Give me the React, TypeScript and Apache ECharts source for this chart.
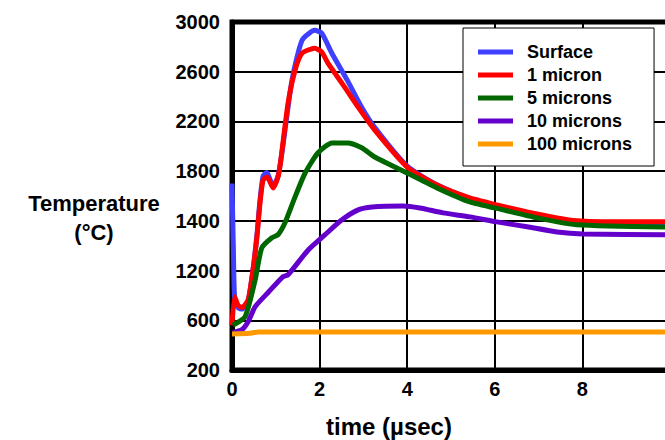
import React, { useEffect, useRef } from "react";
import * as echarts from "echarts";

// time (µsec), temperature
const surfaceData: number[][] = [
  [0, 1700], [0.03, 1200], [0.06, 780], [0.14, 700], [0.23, 690], [0.37, 760], [0.48, 1010],
  [0.57, 1290], [0.64, 1570], [0.71, 1760], [0.79, 1790], [0.94, 1680], [1.05, 1760],
  [1.14, 1946], [1.37, 2532], [1.6, 2853], [1.89, 2933], [2.05, 2909], [2.28, 2749],
  [2.65, 2520], [2.95, 2320], [3.26, 2150], [4.0, 1840], [4.68, 1690], [5.43, 1580], [6.05, 1520],
  [6.74, 1460], [7.42, 1405], [7.88, 1385], [8.47, 1378], [10, 1375],
];
const micron1Data: number[][] = [
  [0, 560], [0.06, 790], [0.14, 720], [0.23, 702], [0.37, 766], [0.48, 1007], [0.57, 1272],
  [0.64, 1545], [0.71, 1729], [0.8, 1753], [0.94, 1665], [1.05, 1753], [1.1, 1850],
  [1.28, 2347], [1.44, 2612], [1.6, 2749], [1.89, 2789], [2.05, 2757], [2.19, 2669],
  [2.51, 2508], [2.88, 2315], [3.26, 2130], [4.0, 1833], [4.68, 1688], [5.43, 1584],
  [6.05, 1528], [6.74, 1472], [7.42, 1424], [7.88, 1400], [8.47, 1392], [10, 1392],
];
const micron5Data: number[][] = [
  [0.02, 560], [0.3, 630], [0.53, 927], [0.68, 1183], [0.91, 1264], [1.05, 1288],
  [1.21, 1384], [1.44, 1593], [1.67, 1785], [1.96, 1946], [2.28, 2026], [2.65, 2026],
  [2.97, 1986], [3.26, 1914], [4.0, 1785], [4.68, 1665], [5.43, 1552], [6.19, 1488],
  [6.96, 1424], [7.88, 1368], [10, 1350],
];
const micron10Data: number[][] = [
  [0.02, 500], [0.23, 525], [0.37, 590], [0.53, 710], [0.82, 822], [1.16, 950], [1.28, 966],
  [1.74, 1166], [2.12, 1287], [2.51, 1408], [2.88, 1488], [3.2, 1512], [3.9, 1520],
  [4.29, 1504], [4.82, 1464], [5.43, 1432], [6.05, 1392], [6.74, 1352], [7.42, 1311],
  [8.01, 1295], [10, 1288],
];
const micron100Data: number[][] = [
  [0, 490], [0.4, 495], [0.6, 505], [10, 505],
];

const seriesNames = ["Surface", "1 micron", "5 microns", "10 microns", "100 microns"];
const yTickLabels = ["200", "600", "1200", "1400", "1800", "2200", "2600", "3000"];
const xTickLabels = ["0", "2", "4", "6", "8", "10"];

const FONT = "'Liberation Sans', Arial, sans-serif";

export default function App() {
  const ref = useRef<HTMLDivElement>(null);
  useEffect(() => {
    if (!ref.current) return;
    const chart = echarts.init(ref.current, undefined, { renderer: "svg" });
    const colors = ["#3f3fff", "#ff0000", "#006600", "#6400cc", "#ff9900"];
    const datas = [surfaceData, micron1Data, micron5Data, micron10Data, micron100Data];
    chart.setOption({
      animation: false,
      backgroundColor: "#ffffff",
      grid: {
        left: 232,
        right: 10,
        top: 22,
        bottom: 70,
        show: true,
        borderColor: "#000",
        borderWidth: 5,
      },
      legend: {
        orient: "vertical",
        left: 463,
        top: 28,
        padding: [15, 22, 13, 15],
        backgroundColor: "#fff",
        borderColor: "#000",
        borderWidth: 1,
        icon: "rect",
        itemWidth: 35,
        itemHeight: 5,
        itemGap: 5,
        data: seriesNames,
        textStyle: {
          fontFamily: FONT,
          fontWeight: "bold",
          fontSize: 18,
          lineHeight: 18,
          color: "#000",
          padding: [0, 0, 0, 9],
        },
      },
      xAxis: {
        type: "value",
        min: 0,
        max: 10,
        interval: 2,
        axisLine: { show: true, lineStyle: { color: "#000", width: 5 } },
        axisTick: { show: false },
        splitLine: { show: true, lineStyle: { color: "#000", width: 2 } },
        axisLabel: {
          fontFamily: FONT,
          fontWeight: "bold",
          fontSize: 20,
          color: "#000",
          margin: 9,
          showMaxLabel: false,
          formatter: (v: number) => xTickLabels[Math.round(v / 2)],
        },
      },
      yAxis: {
        type: "value",
        min: 200,
        max: 3000,
        interval: 400,
        axisLine: { show: true, lineStyle: { color: "#000", width: 5 } },
        axisTick: { show: false },
        splitLine: { show: true, lineStyle: { color: "#000", width: 2 } },
        axisLabel: {
          fontFamily: FONT,
          fontWeight: "bold",
          fontSize: 20,
          color: "#000",
          margin: 12,
          padding: [6, 0, 0, 0],
          formatter: (v: number) => yTickLabels[Math.round((v - 200) / 400)],
        },
      },
      graphic: [
        {
          type: "text",
          x: 94,
          y: 189,
          style: {
            text: "Temperature\n(°C)",
            fontFamily: FONT,
            fontWeight: "bold",
            fontSize: 22,
            lineHeight: 29,
            fill: "#000",
            align: "center",
            verticalAlign: "top",
          },
        },
        {
          type: "text",
          x: 389,
          y: 414,
          style: {
            text: "time (µsec)",
            fontFamily: FONT,
            fontWeight: "bold",
            fontSize: 24,
            fill: "#000",
            align: "center",
            verticalAlign: "top",
          },
        },
      ],
      series: datas.map((d, i) => ({
        name: seriesNames[i],
        type: "line",
        data: d,
        symbol: "none",
        smooth: 0.2,
        color: colors[i],
        lineStyle: { color: colors[i], width: 5 },
        z: 2 + i,
      })),
    });
    return () => chart.dispose();
  }, []);
  return (
    <div style={{ position: "fixed", left: 0, top: 0, width: 665, height: 440, overflow: "hidden", background: "#fff" }}>
      <div ref={ref} style={{ width: 680, height: 440 }} />
    </div>
  );
}
